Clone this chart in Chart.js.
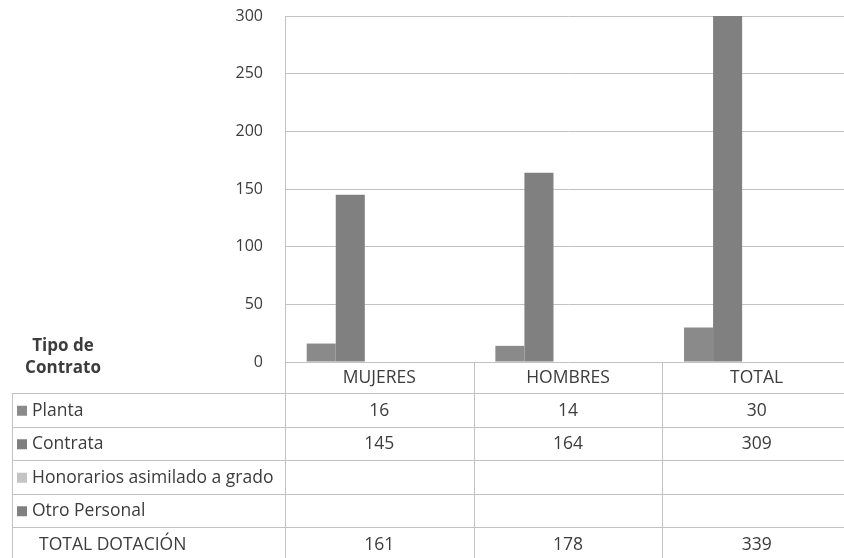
<!DOCTYPE html>
<html>
<head>
<meta charset="utf-8">
<script src="https://cdn.jsdelivr.net/npm/chart.js@4.4.0/dist/chart.umd.min.js"></script>
<style>
  html, body { margin: 0; padding: 0; background: #fff; overflow: hidden; }
  #wrap { width: 856px; height: 558px; }
</style>
</head>
<body>
<div id="wrap"><canvas id="dotacion" width="856" height="558"></canvas></div>
<script>
// Dotación por tipo de contrato
var categorias = ['MUJERES', 'HOMBRES', 'TOTAL'];
var planta = [16, 14, 30];
var contrata = [145, 164, 309];
var honorarios = [null, null, null];
var otroPersonal = [null, null, null];
var totalDotacion = [161, 178, 339];
var ticksY = [0, 50, 100, 150, 200, 250, 300];

var FONT = '"Open Sans", sans-serif';
var TEXTO = '#3c3c3c';
var LINEA = '#c2c2c2';

var series = [
    { label: 'Planta', data: planta, color: '#8a8a8a', key: '#8a8a8a' },
    { label: 'Contrata', data: contrata, color: '#808080', key: '#7e7e7e' },
    { label: 'Honorarios asimilado a grado', data: honorarios, color: '#bdbdbd', key: '#c4c4c4' },
    { label: 'Otro Personal', data: otroPersonal, color: '#7e7e7e', key: '#808080' },
    // total row: no fill, only shown in the table
    { label: 'TOTAL DOTACIÓN', data: totalDotacion, color: 'rgba(0,0,0,0)', key: null }
];

// data table under the plot
var tablaDatos = {
    id: 'tablaDatos',
    afterDraw: function (chart) {
        var ctx = chart.ctx;
        var area = chart.chartArea;
        var xs = chart.scales.x;
        var paso = xs.getPixelForValue(1) - xs.getPixelForValue(0);
        var top = area.bottom;
        var cabH = 31;
        var filaH = 33.5;
        var tablaIzq = 12;
        var fondo = chart.height;

        ctx.save();
        ctx.strokeStyle = LINEA;
        ctx.lineWidth = 1;

        // horizontal lines
        for (var r = 0; r < series.length; r++) {
            var y = Math.round(top + cabH + r * filaH) + 0.5;
            ctx.beginPath();
            ctx.moveTo(tablaIzq, y);
            ctx.lineTo(chart.width, y);
            ctx.stroke();
        }
        // vertical lines
        for (var i = 0; i < categorias.length; i++) {
            var bx = Math.round(xs.getPixelForValue(i) - paso / 2) + 0.5;
            ctx.beginPath();
            ctx.moveTo(bx, top);
            ctx.lineTo(bx, fondo);
            ctx.stroke();
        }
        ctx.beginPath();
        ctx.moveTo(tablaIzq + 0.5, Math.round(top + cabH));
        ctx.lineTo(tablaIzq + 0.5, fondo);
        ctx.stroke();

        // header: categories
        ctx.fillStyle = TEXTO;
        ctx.font = '17.5px ' + FONT;
        ctx.textAlign = 'center';
        ctx.textBaseline = 'middle';
        categorias.forEach(function (c, i) {
            ctx.fillText(c, xs.getPixelForValue(i), top + cabH / 2 + 1);
        });

        // "Tipo de Contrato"
        ctx.font = 'bold 17px ' + FONT;
        ctx.fillText('Tipo de', 63, top - 16);
        ctx.fillText('Contrato', 63, top + 6);

        // series rows
        series.forEach(function (s, r) {
            var cy = top + cabH + (r + 0.5) * filaH + 1;
            ctx.textAlign = 'left';
            ctx.font = '17.5px ' + FONT;
            if (s.key) {
                ctx.fillStyle = s.key;
                ctx.fillRect(17, cy - 5, 10, 10);
                ctx.fillStyle = TEXTO;
                ctx.fillText(s.label, 32, cy);
            } else {
                ctx.fillStyle = TEXTO;
                ctx.fillText(s.label, 39, cy);
            }
            ctx.textAlign = 'center';
            s.data.forEach(function (v, i) {
                if (v !== null) ctx.fillText(String(v), xs.getPixelForValue(i), cy);
            });
        });
        ctx.restore();
    }
};

var ctx = document.getElementById('dotacion').getContext('2d');
var grafico = new Chart(ctx, {
    type: 'bar',
    data: {
        labels: categorias,
        datasets: series.map(function (s) {
            return {
                label: s.label,
                data: s.data,
                backgroundColor: s.color,
                borderWidth: 0,
                categoryPercentage: 0.77,
                barPercentage: 1
            };
        })
    },
    options: {
        responsive: false,
        animation: false,
        layout: { padding: { top: 16, right: 5, bottom: 196, left: 0 } },
        plugins: {
            legend: { display: false },
            tooltip: { enabled: false }
        },
        scales: {
            x: { display: false },
            y: {
                min: 0,
                max: 300,
                afterFit: function (scale) {
                    scale.width = 285;
                    scale.paddingTop = 0;
                    scale.paddingBottom = 0;
                },
                afterBuildTicks: function (scale) {
                    scale.ticks = ticksY.map(function (v) { return { value: v }; });
                },
                grid: { color: LINEA, drawTicks: false },
                border: { color: LINEA },
                ticks: {
                    padding: 22,
                    color: TEXTO,
                    font: { family: FONT, size: 16 }
                }
            }
        }
    },
    plugins: [tablaDatos]
});
</script>
</body>
</html>
